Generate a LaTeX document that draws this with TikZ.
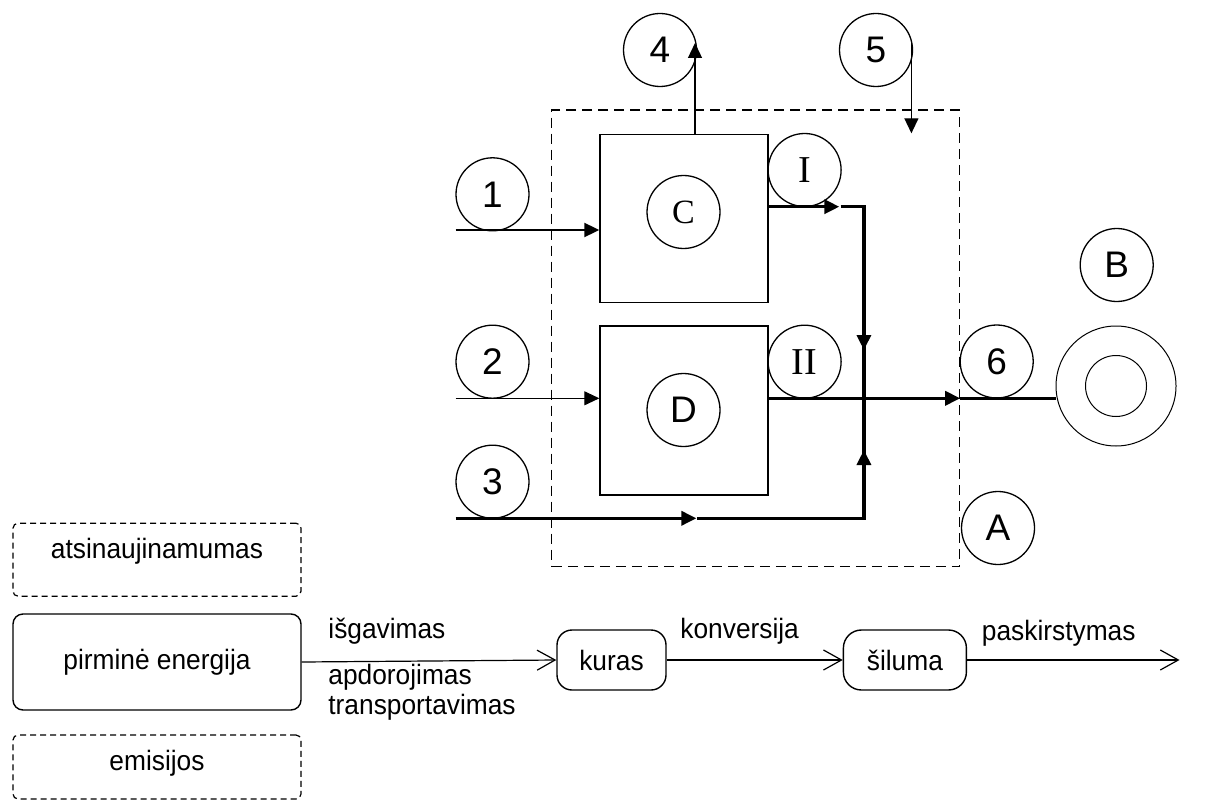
\documentclass[tikz,border=0pt]{standalone}
\usepackage{fontspec}
\setmainfont{Liberation Sans}
\newfontfamily\romanfont{Liberation Serif}
\newfontfamily\chainfont{Liberation Sans}[FakeStretch=0.94]
\usetikzlibrary{arrows.meta, positioning}

\begin{document}
\begin{tikzpicture}[x=0.5pt,y=-0.5pt,
  lbl/.style={circle,draw,line width=0.65pt,minimum size=36.5pt,inner sep=0pt,font=\fontsize{18.5}{18.5}\selectfont},
  rlbl/.style={lbl,font=\romanfont\fontsize{19}{19}\selectfont},
  unit/.style={draw,line width=0.7pt,minimum width=84pt,minimum height=84pt,inner sep=0pt},
  flow/.style={-{Triangle[length=7.5pt,width=7pt]}},
  heavy/.style={line width=1.7pt},
  stage/.style={draw,line width=0.7pt,minimum height=30pt,inner sep=0pt,font=\chainfont\fontsize{14}{15}\selectfont},
  note/.style={draw,dash pattern=on 3pt off 2pt,line width=0.6pt,rounded corners=2.5pt,minimum width=144pt,inner sep=0pt},
  txt/.style={anchor=west,inner sep=0pt,font=\chainfont\fontsize{14}{15}\selectfont},
  pass/.style={-{Straight Barb[length=9pt,width=10pt]},line width=0.6pt}]
\useasboundingbox (0,0) rectangle (1229,802);

% sistemos riba
\node[draw,dash pattern=on 5pt off 3pt,line width=0.6pt,minimum width=203.9pt,minimum height=228.4pt,inner sep=0pt] (plant) at (755.7,338.4) {};

\node[unit] (unitC) at (684,218.3) {};
\node[unit,minimum height=84.5pt] (unitD) at (684,410.5) {};
\node[rlbl,font=\romanfont\fontsize{17}{17}\selectfont] (labC) at (683.5,212) {C};
\node[lbl] (labD) at (683.5,410) {D};

% srautai
\node[lbl] (lab1) at (492.5,194.3) {1};
\node[lbl] (lab2) at (492.5,361.7) {2};
\node[lbl] (lab3) at (492.5,481.7) {3};
\node[lbl] (lab4) at (660,50) {4};
\node[lbl] (lab5) at (876,50) {5};
\node[lbl] (lab6) at (996.7,361.5) {6};
\node[rlbl] (labI) at (804.6,170) {I};
\node[rlbl] (labII) at (804.6,361.7) {II};
\node[lbl] (labA) at (998,528) {A};
\node[lbl] (labB) at (1116.7,265) {B};

% vartotojas
\node[circle,draw,line width=0.5pt,minimum size=60pt,inner sep=0pt] (load) at (1116,386) {};
\node[circle,draw,line width=0.5pt,minimum size=30.5pt,inner sep=0pt] (loadin) at (1116,386) {};

\coordinate (in1) at (455.7,230);
\coordinate (in2) at (455.7,398.3);
\coordinate (in3) at (455.7,518.3);
\coordinate (tip3) at (696.4,518.3);
\coordinate (top4) at (695,43);
\coordinate (top5) at (911.4,43);
\coordinate (end5) at (911.4,133.3);
\coordinate (tipI) at (839.3,206.7);
\coordinate (jI) at (863.9,206.7);
\coordinate (jmid) at (863.9,398.3);
\coordinate (j3) at (863.9,518.3);

\draw[flow,line width=1pt] (in1) -- (in1 -| unitC.west);
\draw[flow,line width=0.5pt] (in2) -- (in2 -| unitD.west);
\draw[flow,heavy] (in3) -- (tip3);
\draw[heavy] ([xshift=0.5pt]tip3) -- (j3) -- (jmid);
\draw[flow,heavy] (j3) -- (863.9,450);
\draw[flow,line width=0.65pt] (top4 |- unitC.north) -- (top4);
\draw[flow,line width=0.65pt] (top5) -- (end5);
\draw[flow,heavy] (unitC.east |- tipI) -- (tipI);
\draw[heavy] ([xshift=0.7pt]tipI) -- (jI) -- (jmid);
\draw[flow,heavy] (jI) -- (863.9,350);
\draw[flow,heavy] (unitD.east |- jmid) -- (plant.east |- jmid);
\draw[heavy] (plant.east |- jmid) -- (jmid -| load.west);

% energijos grandine
\node[note,minimum height=36.5pt] (renew) at (157,559.7) {};
\node[txt,anchor=center] at (157,551.7) {atsinaujinamumas};
\node[stage,rounded corners=5pt,minimum width=144pt,minimum height=48pt] (primary) at (157,662) {pirminė energija};
\node[note,minimum height=32pt] (emis) at (157,767) {};
\node[txt,anchor=center] at (157,763) {emisijos};
\node[stage,rounded corners=7.5pt,minimum width=54.5pt] (fuel) at (611.5,660) {kuras};
\node[stage,rounded corners=9pt,minimum width=61.5pt] (heat) at (904.9,660) {šiluma};
\coordinate (out) at (1179.5,660);

\draw[pass] (primary.east) -- (fuel.west);
\draw[pass] (fuel.east) -- (heat.west);
\draw[pass] (heat.east) -- (out);

\node[txt] at (328,631.7) {išgavimas};
\node[txt] at (328,677) {apdorojimas};
\node[txt] at (328,707.7) {transportavimas};
\node[txt] at (680,631.7) {konversija};
\node[txt] at (981.5,633) {paskirstymas};

\end{tikzpicture}
\end{document}
